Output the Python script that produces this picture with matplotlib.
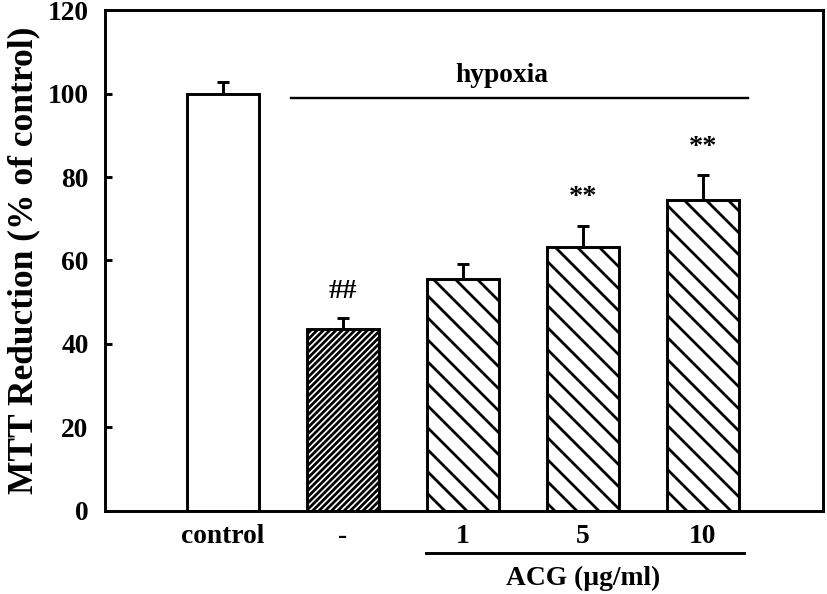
import matplotlib
matplotlib.use("Agg")
import matplotlib.pyplot as plt

# data
groups = ["control", "-", "1", "5", "10"]
mtt = [100.0, 43.6, 55.6, 63.2, 74.6]
err = [2.8, 2.6, 3.6, 5.0, 6.0]
hatches = ["", "///////", "\\\\", "\\\\", "\\\\"]
marks = ["", "##", "", "**", "**"]
mark_y = [0, 52.5, 0, 75.2, 87.0]

plt.rcParams["font.family"] = ["Liberation Serif", "DejaVu Serif"]
plt.rcParams["font.weight"] = "bold"
plt.rcParams["hatch.linewidth"] = 1.5

fig = plt.figure(figsize=(827 / 132, 594 / 132), dpi=132)
ax = fig.add_axes([0.127, 0.14, 0.868, 0.843])

x = list(range(len(groups)))
for i in x:
    ax.bar(i, mtt[i], width=0.6, color="white", edgecolor="black",
           linewidth=1.6, hatch=hatches[i], zorder=2)
ax.errorbar(x, mtt, yerr=[[0] * len(err), err], fmt="none", ecolor="black",
            elinewidth=1.6, capsize=3.5, capthick=1.6, zorder=1)

for i in x:
    if marks[i]:
        ax.text(i, mark_y[i], marks[i], ha="center", va="center",
                fontsize=15.5, fontweight="bold")

# hypoxia bracket
ax.plot([0.567, 4.375], [98.9, 98.9], color="black", lw=1.3)
ax.text(2.325, 104.3, "hypoxia", ha="center", va="center", fontsize=15,
        fontweight="bold")

# ACG bracket below the axis
tr = ax.get_xaxis_transform()
ax.plot([1.69, 4.34], [-0.084, -0.084], color="black", lw=1.6,
        transform=tr, clip_on=False)
ax.text(3.0, -0.134, "ACG (\u00b5g/ml)", ha="center", va="center",
        fontsize=15, fontweight="bold", transform=tr)

ax.set_xlim(-0.98, 5.0)
ax.set_ylim(0, 120)
ax.set_yticks(range(0, 121, 20))
ax.set_xticks(x)
ax.set_xticklabels(groups)
ax.tick_params(axis="x", length=0, pad=7, labelsize=15)
ax.tick_params(axis="y", direction="in", length=4, width=1.6, pad=9,
               labelsize=15)
for s in ax.spines.values():
    s.set_linewidth(1.6)

ax.set_ylabel("MTT Reduction (% of control)", fontsize=19.3,
              fontweight="bold", labelpad=4)

fig.savefig("out.png", dpi=132)
